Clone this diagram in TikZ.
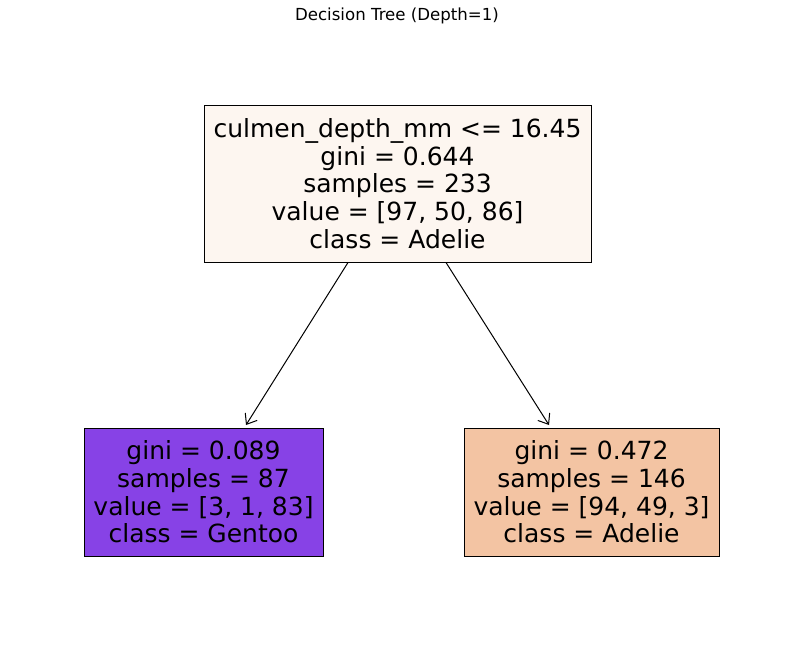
\documentclass[tikz,border=0pt]{standalone}
\usepackage{fontspec}
\setmainfont{DejaVu Sans}
\usetikzlibrary{arrows.meta}
\definecolor{rootc}{RGB}{253,246,240}
\definecolor{leftc}{RGB}{135,66,230}
\definecolor{rightc}{RGB}{243,196,163}
\tikzset{
  treebox/.style={draw=black, line width=1pt, inner sep=0pt, anchor=center, align=center,
    font=\fontsize{25}{27.6}\selectfont},
  edge/.style={line width=1pt, -{Straight Barb[length=9pt,width=14pt,line width=1pt]}}
}
\begin{document}
\begin{tikzpicture}[x=1pt,y=-1pt]
\useasboundingbox (0,0) rectangle (794,656);
\node[font=\fontsize{16.6}{19}\selectfont] (title) at (397,16) {Decision Tree (Depth=1)};
\node[treebox, fill=rootc, minimum width=387pt, minimum height=157pt] (root) at (397.5,183.5)
  {culmen\_depth\_mm <= 16.45\\gini = 0.644\\samples = 233\\value = [97, 50, 86]\\class = Adelie};
\node[treebox, fill=leftc, minimum width=239pt, minimum height=128pt] (left) at (203.5,492)
  {gini = 0.089\\samples = 87\\value = [3, 1, 83]\\class = Gentoo};
\node[treebox, fill=rightc, minimum width=255pt, minimum height=128pt] (right) at (591.5,492)
  {gini = 0.472\\samples = 146\\value = [94, 49, 3]\\class = Adelie};
\coordinate (lt) at (246,425);
\coordinate (rt) at (549,425);
\draw[edge] (root.south -| 348,0) -- (lt);
\draw[edge] (root.south -| 446,0) -- (rt);
\end{tikzpicture}
\end{document}
